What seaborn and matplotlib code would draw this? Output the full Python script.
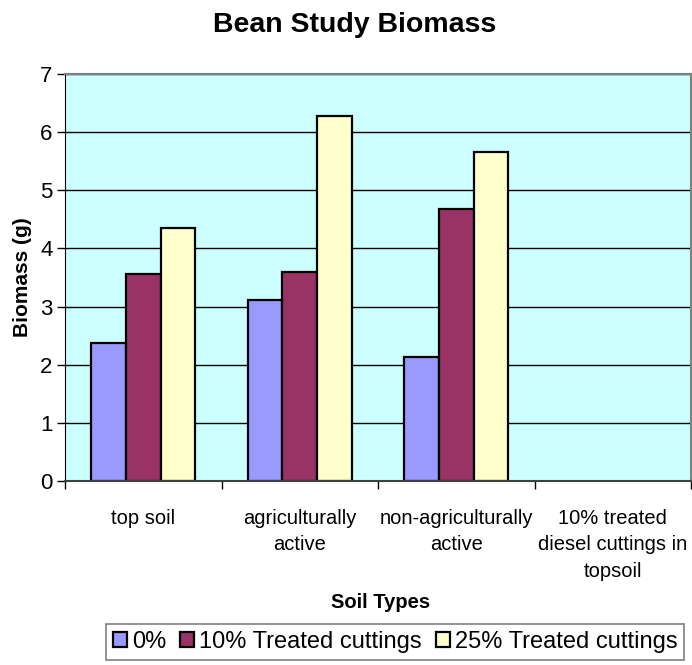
import pandas as pd
import seaborn as sns
import matplotlib.pyplot as plt
from matplotlib.ticker import FixedLocator, NullFormatter

# data
soil_types = ["top soil", "agriculturally\nactive", "non-agriculturally\nactive",
              "10% treated\ndiesel cuttings in\ntopsoil"]
treatments = ["0%", "10% Treated cuttings", "25% Treated cuttings"]
biomass_0 = [2.38, 3.11, 2.13]
biomass_10 = [3.56, 3.59, 4.68]
biomass_25 = [4.35, 6.28, 5.66]
bar_colors = ["#9999FF", "#993366", "#FFFFCC"]

rows = []
for i, soil in enumerate(soil_types[:3]):
    for t, vals in zip(treatments, [biomass_0, biomass_10, biomass_25]):
        rows.append({"soil": soil, "treatment": t, "biomass": vals[i]})
df = pd.DataFrame(rows)

sns.set_style("white")
plt.rcParams["font.family"] = ["Liberation Sans", "DejaVu Sans"]
plt.rcParams["text.color"] = "black"
plt.rcParams["axes.labelcolor"] = "black"
plt.rcParams["xtick.color"] = "black"
plt.rcParams["ytick.color"] = "black"

fig = plt.figure(figsize=(6.92, 6.65), dpi=100)
ax = fig.add_axes([65 / 692, 1 - 481 / 665, 626 / 692, 407 / 665])
ax.set_facecolor("#CCFFFF")

sns.barplot(data=df, x="soil", y="biomass", hue="treatment", order=soil_types,
            hue_order=treatments, palette=bar_colors, width=0.667, gap=0,
            edgecolor="black", linewidth=1.6, saturation=1, ax=ax, legend=True)

ax.set_xlim(-0.5, 3.5)
ax.set_ylim(0, 7)
ax.set_yticks(range(8))
ax.yaxis.grid(True, color="black", linewidth=1)
ax.set_axisbelow(True)

# category boundary ticks, labels centred on categories
ax.xaxis.set_major_locator(FixedLocator([-0.5, 0.5, 1.5, 2.5, 3.5]))
ax.xaxis.set_major_formatter(NullFormatter())
ax.xaxis.set_minor_locator(FixedLocator([0, 1, 2, 3]))
ax.set_xticklabels(soil_types, minor=True, fontsize=14.5, linespacing=1.5)
ax.tick_params(axis="x", which="major", direction="out", length=6, width=1, color="black")
ax.tick_params(axis="x", which="minor", length=0, pad=20)
ax.tick_params(axis="y", direction="out", length=6, width=1, color="black", labelsize=16, pad=3)
ax.tick_params(left=True, bottom=True)

for side in ["top", "right"]:
    ax.spines[side].set_color("#808080")
    ax.spines[side].set_linewidth(1.5)
ax.spines["left"].set_color("black")
ax.spines["bottom"].set_color("#404040")
ax.spines["bottom"].set_linewidth(1.5)

ax.set_xlabel("")
ax.set_ylabel("Biomass (g)", fontsize=15, fontweight="bold", labelpad=6)
fig.text(381 / 692, 1 - 603 / 665, "Soil Types", ha="center", va="center",
         fontsize=14.5, fontweight="bold")
fig.text(355 / 692, 1 - 25 / 665, "Bean Study Biomass", ha="center", va="center",
         fontsize=20.5, fontweight="bold")

handles, labels = ax.get_legend_handles_labels()
ax.get_legend().remove()
leg = fig.legend(handles, labels, loc="center", bbox_to_anchor=(395 / 692, 1 - 642 / 665),
                 ncol=3, frameon=True, fancybox=False, fontsize=17,
                 handlelength=0.6, handleheight=0.6, handletextpad=0.2,
                 columnspacing=0.6, borderpad=0.3)
leg.get_frame().set_edgecolor("#606060")
leg.get_frame().set_linewidth(1.2)
for h in leg.legend_handles:
    h.set_edgecolor("black")
    h.set_linewidth(1.6)

fig.savefig("out.png", dpi=100)
